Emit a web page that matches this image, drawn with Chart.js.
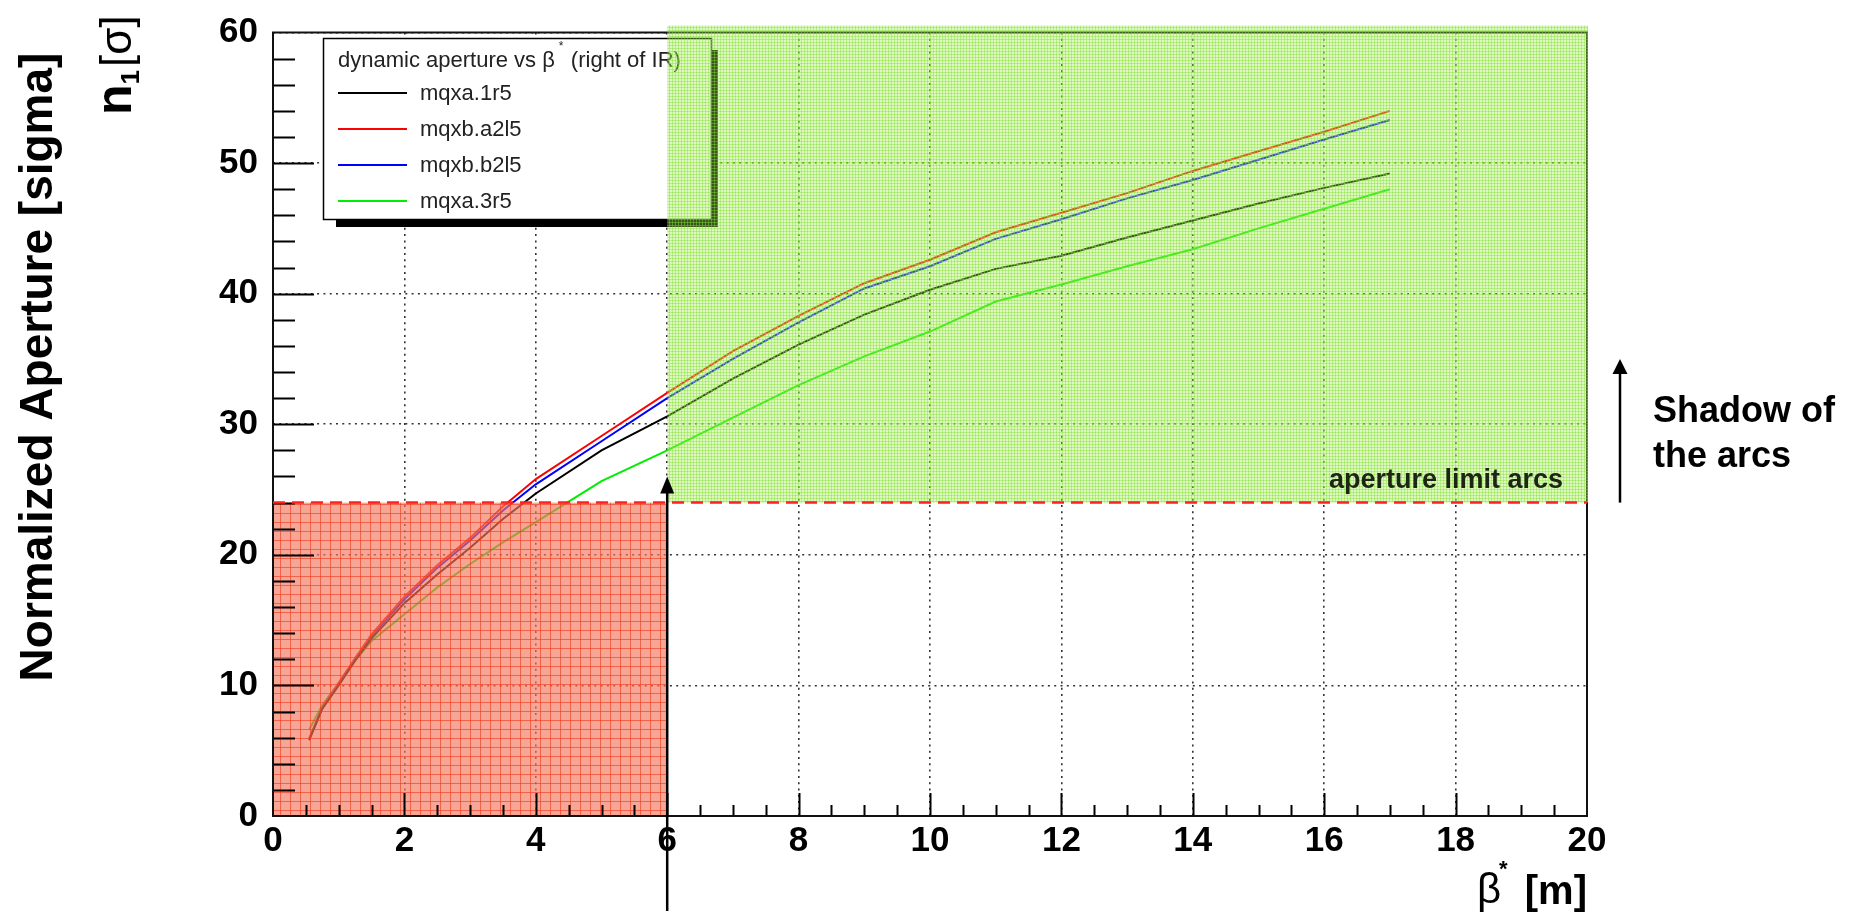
<!DOCTYPE html>
<html>
<head>
<meta charset="utf-8">
<script src="https://cdn.jsdelivr.net/npm/chart.js@4.4.1/dist/chart.umd.min.js"></script>
<style>
  html, body { margin: 0; padding: 0; background: #ffffff; overflow: hidden; }
  #wrap { position: relative; width: 1860px; height: 915px; }
</style>
</head>
<body>
<div id="wrap"><canvas id="chart" width="1860" height="915"></canvas></div>
<script>
// beta* scan points [m]
const betaStar = [0.55, 0.75, 1.0, 1.25, 1.5, 2.0, 2.5, 3.0, 3.5, 4.0, 5.0, 6.0, 7.0, 8.0, 9.0, 10.0, 11.0, 12.0, 13.0, 14.0, 15.0, 16.0, 17.0];

// normalized aperture n1 [sigma] per magnet
const mqxa1r5  = [5.8, 8.2, 10.0, 11.9, 13.6, 16.3, 18.5, 20.55, 22.75, 24.7, 28.0, 30.6, 33.5, 36.1, 38.4, 40.3, 41.9, 42.9, 44.3, 45.6, 46.9, 48.1, 49.2];
const mqxbA2l5 = [5.9, 8.3, 10.2, 12.1, 13.9, 16.8, 19.2, 21.3, 23.7, 25.8, 29.1, 32.4, 35.6, 38.3, 40.8, 42.6, 44.7, 46.2, 47.7, 49.4, 50.9, 52.4, 54.0];
const mqxbB2l5 = [5.9, 8.3, 10.1, 12.0, 13.8, 16.6, 19.0, 21.1, 23.4, 25.4, 28.7, 32.0, 35.0, 37.8, 40.4, 42.1, 44.2, 45.7, 47.3, 48.7, 50.25, 51.8, 53.3];
const mqxa3r5  = [6.6, 8.5, 10.2, 11.9, 13.4, 15.45, 17.5, 19.3, 20.95, 22.5, 25.65, 28.0, 30.5, 33.0, 35.2, 37.1, 39.4, 40.7, 42.1, 43.4, 45.0, 46.5, 48.0];

const seriesNames  = ['mqxa.1r5', 'mqxb.a2l5', 'mqxb.b2l5', 'mqxa.3r5'];
const seriesValues = [mqxa1r5, mqxbA2l5, mqxbB2l5, mqxa3r5];
const seriesColors = ['#000000', '#ff0000', '#0000ff', '#00ee00'];

// axis ranges and tick steps
const xRange = [0, 20];
const yRange = [0, 60];
const xMajorStep = 2, xMinorStep = 0.5;
const yMajorStep = 10, yMinorStep = 2;

// limits: arc aperture shadow and minimum beta*
const apertureLimit = 24;
const betaLimit = 6;

const FONT = "'Liberation Sans', Arial, Helvetica, sans-serif";

function makeTile(w, h, bg, line) {
  const c = document.createElement('canvas');
  c.width = w; c.height = h;
  const g = c.getContext('2d');
  g.fillStyle = bg; g.fillRect(0, 0, w, h);
  g.fillStyle = line; g.fillRect(0, 0, 1, h); g.fillRect(0, 0, w, 1);
  return c;
}
const redTile = makeTile(10, 9, 'rgba(243,118,92,0.66)', 'rgba(238,60,30,0.62)');
const greenTile = makeTile(3, 3, 'rgba(160,235,80,0.36)', 'rgba(130,225,50,0.42)');

function drawArrow(ctx, x, yFrom, yTip, lw, headW, headH) {
  ctx.save();
  ctx.strokeStyle = '#000'; ctx.fillStyle = '#000'; ctx.lineWidth = lw;
  ctx.beginPath(); ctx.moveTo(x, yFrom); ctx.lineTo(x, yTip + headH - 1); ctx.stroke();
  ctx.beginPath(); ctx.moveTo(x, yTip); ctx.lineTo(x - headW / 2, yTip + headH); ctx.lineTo(x + headW / 2, yTip + headH); ctx.closePath(); ctx.fill();
  ctx.restore();
}

const decorations = {
  id: 'decorations',
  afterDatasetsDraw(chart) {
    const { ctx, chartArea: a, scales } = chart;
    const X = v => scales.x.getPixelForValue(v);
    const Y = v => scales.y.getPixelForValue(v);

    // excluded region: beta* below limit and aperture below the arcs
    ctx.save();
    ctx.fillStyle = ctx.createPattern(redTile, 'repeat');
    ctx.fillRect(X(0), Y(apertureLimit), X(betaLimit) - X(0), Y(0) - Y(apertureLimit));
    ctx.restore();

    // inner tick marks (ROOT style)
    ctx.save();
    ctx.strokeStyle = '#000'; ctx.lineWidth = 2;
    ctx.beginPath();
    for (let v = xRange[0] + xMinorStep; v < xRange[1] - 1e-9; v += xMinorStep) {
      const major = Math.abs(v / xMajorStep - Math.round(v / xMajorStep)) < 1e-6;
      const len = major ? 23 : 11;
      const px = Math.round(X(v)) + 0.5;
      ctx.moveTo(px, a.bottom); ctx.lineTo(px, a.bottom - len);
    }
    for (let v = yRange[0] + yMinorStep; v < yRange[1] - 1e-9; v += yMinorStep) {
      const major = Math.abs(v / yMajorStep - Math.round(v / yMajorStep)) < 1e-6;
      const len = major ? 41 : 22;
      const py = Math.round(Y(v)) + 0.5;
      ctx.moveTo(a.left, py); ctx.lineTo(a.left + len, py);
    }
    ctx.stroke();
    // frame
    ctx.lineWidth = 2;
    ctx.strokeStyle = '#111';
    ctx.strokeRect(a.left, a.top, a.right - a.left, a.bottom - a.top);
    ctx.restore();

    // legend box with shadow
    const lx = 323, ly = 38, lw = 388, lh = 181;
    ctx.save();
    ctx.fillStyle = '#000';
    ctx.fillRect(lx + 13, ly + 12, lw - 6, lh - 4);
    ctx.fillStyle = '#fff';
    ctx.fillRect(lx, ly, lw, lh);
    ctx.strokeStyle = '#000'; ctx.lineWidth = 1.5;
    ctx.strokeRect(lx + 0.5, ly + 0.5, lw, lh);
    ctx.fillStyle = '#222';
    ctx.textBaseline = 'alphabetic'; ctx.textAlign = 'left';
    ctx.font = '22px ' + FONT;
    const t1 = 'dynamic aperture vs \u03b2';
    ctx.fillText(t1, 338, 67);
    let tx = 338 + ctx.measureText(t1).width;
    ctx.font = '12px ' + FONT;
    ctx.fillText('*', tx + 4, 50);
    ctx.font = '22px ' + FONT;
    ctx.fillText('(right of IR)', tx + 16, 67);
    chart.data.datasets.forEach((ds, i) => {
      const yy = 93 + i * 36;
      ctx.strokeStyle = ds.borderColor; ctx.lineWidth = 2;
      ctx.beginPath(); ctx.moveTo(338, yy); ctx.lineTo(407, yy); ctx.stroke();
      ctx.fillStyle = '#222';
      ctx.font = '22px ' + FONT;
      ctx.fillText(ds.label, 420, yy + 7);
    });
    ctx.restore();

    // allowed region above the arc aperture limit
    ctx.save();
    ctx.fillStyle = ctx.createPattern(greenTile, 'repeat');
    ctx.fillRect(X(betaLimit), Y(yRange[1]) - 7, X(xRange[1]) - X(betaLimit) + 1, Y(apertureLimit) - Y(yRange[1]) + 7);
    ctx.restore();

    // aperture limit of the arcs
    ctx.save();
    ctx.strokeStyle = '#ff2020'; ctx.lineWidth = 2.5;
    ctx.setLineDash([12, 7]);
    ctx.beginPath();
    ctx.moveTo(X(xRange[0]), Y(apertureLimit)); ctx.lineTo(X(xRange[1]), Y(apertureLimit));
    ctx.stroke();
    ctx.setLineDash([]);
    ctx.fillStyle = '#1c2612';
    ctx.font = 'bold 27px ' + FONT;
    ctx.textAlign = 'right';
    ctx.fillText('aperture limit arcs', X(xRange[1]) - 24, Y(apertureLimit) - 15);
    ctx.restore();

    // arrows
    drawArrow(ctx, X(betaLimit), 911, Y(apertureLimit) - 26, 2.5, 14, 17);
    drawArrow(ctx, 1620, Y(apertureLimit), Y(35), 2.5, 15, 15);

    // side note
    ctx.save();
    ctx.fillStyle = '#000';
    ctx.font = 'bold 36px ' + FONT;
    ctx.textAlign = 'left';
    ctx.fillText('Shadow of', 1653, 422);
    ctx.fillText('the arcs', 1653, 467);
    ctx.restore();

    // y titles (rotated)
    ctx.save();
    ctx.fillStyle = '#000';
    ctx.translate(52, 367);
    ctx.rotate(-Math.PI / 2);
    ctx.font = 'bold 46px ' + FONT;
    ctx.textAlign = 'center';
    ctx.fillText('Normalized Aperture [sigma]', 0, 0);
    ctx.restore();

    ctx.save();
    ctx.fillStyle = '#000';
    ctx.translate(131, 115);
    ctx.rotate(-Math.PI / 2);
    ctx.textAlign = 'left';
    ctx.font = 'bold 50px ' + FONT;
    ctx.fillText('n', 0, 0);
    let w = ctx.measureText('n').width;
    ctx.font = 'bold 26px ' + FONT;
    ctx.fillText('1', w, 8);
    w += ctx.measureText('1').width + 3;
    ctx.font = '44px ' + FONT;
    ctx.fillText('[\u03c3]', w, 0);
    ctx.restore();

    // x title
    ctx.save();
    ctx.fillStyle = '#000';
    ctx.textAlign = 'left';
    ctx.font = '42px ' + FONT;
    ctx.fillText('\u03b2', 1477, 903);
    ctx.font = 'bold 22px ' + FONT;
    ctx.fillText('*', 1499, 876);
    ctx.font = 'bold 40px ' + FONT;
    ctx.textAlign = 'right';
    ctx.fillText('[m]', X(xRange[1]), 904);
    ctx.restore();
  }
};

const datasets = seriesNames.map((name, i) => ({
  label: name,
  data: betaStar.map((b, k) => ({ x: b, y: seriesValues[i][k] })),
  borderColor: seriesColors[i],
  backgroundColor: seriesColors[i],
  borderWidth: 2,
  pointRadius: 0,
  tension: 0,
  showLine: true,
  fill: false
}));

new Chart(document.getElementById('chart'), {
  type: 'scatter',
  data: { datasets },
  options: {
    responsive: false,
    animation: false,
    devicePixelRatio: 1,
    layout: { padding: { left: 0, right: 273, top: 20, bottom: 0 } },
    plugins: { legend: { display: false }, tooltip: { enabled: false } },
    scales: {
      x: {
        type: 'linear', min: xRange[0], max: xRange[1],
        ticks: { stepSize: xMajorStep, autoSkip: false, maxRotation: 0, padding: 8, color: '#000',
                 font: { family: FONT, size: 35, weight: 'bold', lineHeight: 1 } },
        grid: { color: '#333', lineWidth: 1.6, drawTicks: false },
        border: { display: false, dash: [2, 4.3] },
        afterFit: s => { s.height = 99; }
      },
      y: {
        type: 'linear', min: yRange[0], max: yRange[1],
        ticks: { stepSize: yMajorStep, autoSkip: false, padding: 15, color: '#000',
                 font: { family: FONT, size: 35, weight: 'bold', lineHeight: 1 } },
        grid: { color: '#333', lineWidth: 1.6, drawTicks: false },
        border: { display: false, dash: [2, 4.3] },
        afterFit: s => { s.width = 273; }
      }
    }
  },
  plugins: [decorations]
});
</script>
</body>
</html>
